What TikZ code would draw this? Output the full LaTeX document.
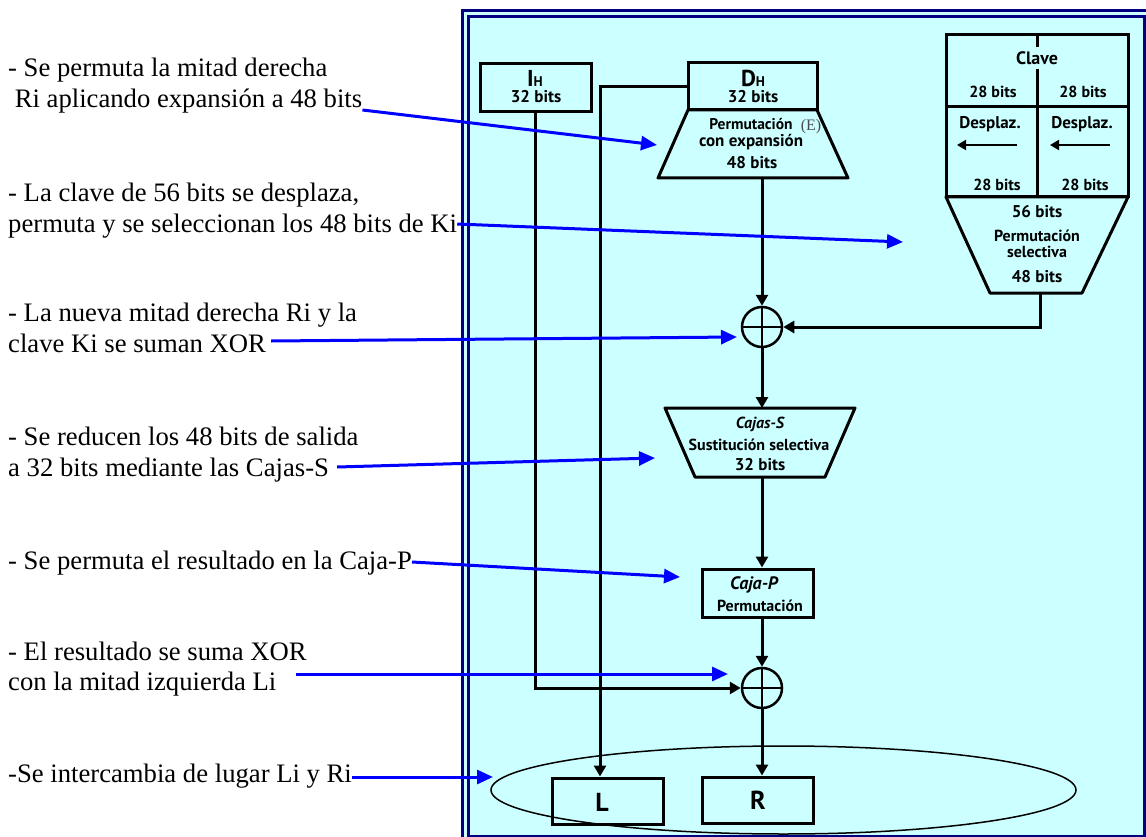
\documentclass[tikz,border=0pt]{standalone}
\usepackage{fontspec}
\setmainfont{Liberation Serif}
\newfontfamily\diagfont{PT Sans}
\usetikzlibrary{arrows.meta,shapes.geometric}
\definecolor{paneback}{HTML}{CCFFFF}
\definecolor{paneedge}{HTML}{000080}
\definecolor{tagblue}{HTML}{0000FF}
\newcommand\notesize{\fontsize{26.67}{30.7}\selectfont}
\newcommand\boxfont[1]{\diagfont\bfseries\fontsize{#1}{#1}\selectfont}
\tikzset{
  blk/.style={draw, line width=3pt, inner sep=0pt},
  wire/.style={line width=3pt, line join=round},
  feed/.style={line width=3pt, -{Triangle[length=11pt,width=12pt]}},
  note/.style={anchor=base west, inner sep=0pt, font=\notesize},
  lbl/.style={inner sep=0pt, font=\boxfont{16}},
  pointer/.style={tagblue, line width=3pt, -{Triangle[length=16pt,width=14pt]}},
  xor/.style={circle, draw, line width=2.5pt, minimum size=40pt, inner sep=0pt},
}
\begin{document}
\begin{tikzpicture}[x=1pt,y=-1pt]
\useasboundingbox (0,0) rectangle (1146,837);
% frame
\fill[paneback] (462.5,11) rectangle (1170,860);
\draw[paneedge,line width=3pt] (462.5,11) rectangle (1170,860);
\draw[paneedge,line width=3pt] (468.5,16.5) rectangle (1144.5,836);
% halves
\node[blk, minimum width=111pt, minimum height=48pt] (ih) at (535.5,88) {};
\node[lbl, font=\boxfont{23}] (ihname) at (535,78) {I{\boxfont{14}H}};
\node[lbl, font=\boxfont{17}] (ihbits) at (536,97) {32 bits};
\node[blk, minimum width=129pt, minimum height=47pt] (dh) at (752.5,86.5) {};
\node[lbl, font=\boxfont{23}] (dhname) at (753,78) {D{\boxfont{14}H}};
\node[lbl, font=\boxfont{17}] (dhbits) at (753,97) {32 bits};
% expansion
\draw[wire] (688,110) -- (817,110) -- (848,178) -- (658,178) -- cycle;
\coordinate (expout) at (762,178);
\node[lbl, font=\boxfont{15.5}] (expa) at (751,124) {Permutación};
\node[inner sep=0pt, font=\fontsize{16}{16}\selectfont, text=black!70] (expe) at (811,127) {(E)};
\node[lbl, font=\boxfont{17}] (expb) at (751,142) {con expansión};
\node[lbl, font=\boxfont{17}] (expc) at (752,163) {48 bits};
% key
\node[blk, minimum width=182pt, minimum height=162pt] (key) at (1037,116) {};
\draw[wire] (key.north) -- (key.south);
\draw[wire] (key.west |- 0,107) -- (key.east |- 0,107);
\node[lbl, fill=paneback, inner ysep=4pt, inner xsep=2pt, font=\boxfont{18}] (keyname) at (1037,58) {Clave};
\node[lbl] (kl1) at (993,92) {28 bits};
\node[lbl] (kr1) at (1083,92) {28 bits};
\node[lbl, font=\boxfont{17}] (kl2) at (990,124) {Desplaz.};
\node[lbl, font=\boxfont{17}] (kr2) at (1082,124) {Desplaz.};
\draw[line width=2pt, -{Triangle[length=9pt,width=10pt]}] (1017,145) -- (957,145);
\draw[line width=2pt, -{Triangle[length=9pt,width=10pt]}] (1110,145) -- (1050,145);
\node[lbl] (kl3) at (997,185) {28 bits};
\node[lbl] (kr3) at (1085,185) {28 bits};
\draw[wire] (946,197) -- (1128,197) -- (1082,293) -- (990,293) -- cycle;
\coordinate (keyout) at (1040,293);
\node[lbl, font=\boxfont{17}] (kt1) at (1037,212) {56 bits};
\node[lbl] (kt2) at (1037,236) {Permutación};
\node[lbl] (kt3) at (1037,252) {selectiva};
\node[lbl, font=\boxfont{17}] (kt4) at (1037,277) {48 bits};
% xor gates
\node[xor] (xor1) at (762,327) {};
\draw[line width=2.5pt] (xor1.west) -- (xor1.east) (xor1.north) -- (xor1.south);
\node[xor] (xor2) at (762,688) {};
\draw[line width=2.5pt] (xor2.west) -- (xor2.east) (xor2.north) -- (xor2.south);
% S boxes
\draw[wire] (665,408) -- (855,408) -- (825,477) -- (695,477) -- cycle;
\coordinate (sin) at (762,408);
\coordinate (sout) at (762,477);
\node[lbl, font=\boxfont{16}\itshape] (sa) at (760,424) {Cajas-S};
\node[lbl] (sb) at (759,445) {Sustitución selectiva};
\node[lbl, font=\boxfont{17}] (sc) at (760,465) {32 bits};
% P box
\node[blk, minimum width=111pt, minimum height=48pt] (pbox) at (757.5,593) {};
\node[lbl, font=\boxfont{18}\itshape] (pa) at (754,585) {Caja-P};
\node[lbl] (pb) at (760,606) {Permutación};
% swap
\node[draw, ellipse, line width=1.5pt, minimum width=585pt, minimum height=88pt] (swap) at (783.5,790) {};
\node[blk, minimum width=111pt, minimum height=46pt] (lbox) at (607.5,801) {};
\node[lbl, font=\boxfont{26}] (lname) at (602,802) {L};
\node[blk, minimum width=111pt, minimum height=46pt] (rbox) at (757.5,800) {};
\node[lbl, font=\boxfont{26}] (rname) at (758,800) {R};
% flow
\draw[feed] (expout) -- (xor1.north);
\draw[feed] (keyout) |- (xor1.east);
\draw[feed] (xor1.south) -- (sin);
\draw[feed] (sout) -- (sout |- pbox.north);
\draw[feed] (pbox.south -| xor2) -- (xor2.north);
\draw[feed] (xor2.south) -- (xor2.south |- rbox.north);
\draw[feed] (ih.south) |- (xor2.west);
\draw[feed] (dh.west) -| ([xshift=-7.5pt]lbox.north);
% notes
\node[note] (n1a) at (8,77) {- Se permuta la mitad derecha};
\node[note] (n1b) at (8,108) {\ Ri aplicando expansión a 48 bits};
\node[note] (n2a) at (8,202) {- La clave de 56 bits se desplaza,};
\node[note] (n2b) at (8,233) {permuta y se seleccionan los 48 bits de Ki};
\node[note] (n3a) at (8,321) {- La nueva mitad derecha Ri y la};
\node[note] (n3b) at (8,352) {clave Ki se suman XOR};
\node[note] (n4a) at (8,445) {- Se reducen los 48 bits de salida};
\node[note] (n4b) at (8,476) {a 32 bits mediante las Cajas-S};
\node[note] (n5) at (8,569) {- Se permuta el resultado en la Caja-P};
\node[note] (n6a) at (8,660) {- El resultado se suma XOR};
\node[note] (n6b) at (8,690) {con la mitad izquierda Li};
\node[note] (n7) at (8,782) {-Se intercambia de lugar Li y Ri};
\coordinate (p1) at (657,145);
\coordinate (p2) at (903,242);
\coordinate (p3) at (737,337);
\coordinate (p4) at (655,458);
\coordinate (p5) at (680,577);
\coordinate (p6) at (728,674);
\coordinate (p7) at (493,777);
\draw[pointer] ([yshift=-2pt]n1b.base east) -- (p1);
\draw[pointer] ([yshift=9pt]n2b.base east) -- (p2);
\draw[pointer] ([xshift=5pt,yshift=11pt]n3b.base east) -- (p3);
\draw[pointer] ([xshift=8pt,yshift=9pt]n4b.base east) -- (p4);
\draw[pointer] ([yshift=7pt]n5.base east) -- (p5);
\draw[pointer] ([xshift=20pt,yshift=16pt]n6b.base east) -- (p6);
\draw[pointer] ([yshift=5pt]n7.base east) -- (p7);
\end{tikzpicture}
\end{document}
